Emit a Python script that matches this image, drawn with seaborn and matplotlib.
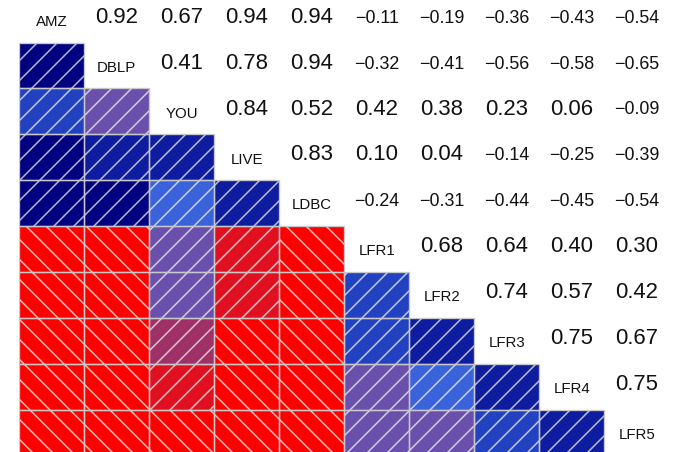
import numpy as np
import pandas as pd
import matplotlib
matplotlib.use("Agg")
import matplotlib.pyplot as plt
from matplotlib.colors import ListedColormap, BoundaryNorm
from matplotlib.patches import Rectangle
import seaborn as sns

# Datasets compared
labels = ["AMZ", "DBLP", "YOU", "LIVE", "LDBC", "LFR1", "LFR2", "LFR3", "LFR4", "LFR5"]

# Upper-triangle correlations, one list per row (columns to the right of the diagonal)
r_amz = [0.92, 0.67, 0.94, 0.94, -0.11, -0.19, -0.36, -0.43, -0.54]
r_dblp = [0.41, 0.78, 0.94, -0.32, -0.41, -0.56, -0.58, -0.65]
r_you = [0.84, 0.52, 0.42, 0.38, 0.23, 0.06, -0.09]
r_live = [0.83, 0.10, 0.04, -0.14, -0.25, -0.39]
r_ldbc = [-0.24, -0.31, -0.44, -0.45, -0.54]
r_lfr1 = [0.68, 0.64, 0.40, 0.30]
r_lfr2 = [0.74, 0.57, 0.42]
r_lfr3 = [0.75, 0.67]
r_lfr4 = [0.75]
upper_rows = [r_amz, r_dblp, r_you, r_live, r_ldbc, r_lfr1, r_lfr2, r_lfr3, r_lfr4]

n = len(labels)
corr = np.eye(n)
for i, row in enumerate(upper_rows):
    for k, v in enumerate(row):
        j = i + 1 + k
        corr[i, j] = v
        corr[j, i] = v
df = pd.DataFrame(corr, index=labels, columns=labels)

# Shading palette: red for negative, through purple to navy for strong positive
bounds = [-1.0, 0.0, 0.2, 0.3, 0.5, 0.6, 0.7, 0.9, 1.0001]
shades = ["#FF0000", "#E01020", "#A03068", "#6A50AC", "#3A62DA",
          "#2242C2", "#0E1CA0", "#000080"]
cmap = ListedColormap(shades)
norm = BoundaryNorm(bounds, cmap.N)

sns.set_theme(style="white")
plt.rcParams["font.family"] = ["Liberation Sans", "DejaVu Sans"]
plt.rcParams["hatch.linewidth"] = 0.9

W, H, DPI = 673, 452, 120
fig = plt.figure(figsize=(W / DPI, H / DPI), dpi=DPI)
left, top, cw, rh = 19.3, -3.4, 65.0, 45.9
ax = fig.add_axes([left / W, 1 - (top + n * rh) / H, n * cw / W, n * rh / H])

lower_mask = np.triu(np.ones((n, n), dtype=bool))
sns.heatmap(df, mask=lower_mask, cmap=cmap, norm=norm, cbar=False,
            linewidths=0, square=False,
            xticklabels=False, yticklabels=False, ax=ax)

# Hatching ("/" positive, "\" negative) and a light border on each shaded cell
for i in range(n):
    for j in range(i):
        v = df.iat[i, j]
        ax.add_patch(Rectangle((j, i), 1, 1, facecolor="none",
                               edgecolor=(1, 1, 1, 0.72), linewidth=0,
                               hatch="//" if v > 0 else "\\\\"))
        ax.add_patch(Rectangle((j, i), 1, 1, fill=False,
                               edgecolor="#C8C8C8", linewidth=0.8))

# Diagonal names and upper-triangle values
for i in range(n):
    ax.text(i + 0.5, i + 0.55, labels[i], ha="center", va="center",
            fontsize=9, color="#111111")
    for j in range(i + 1, n):
        v = df.iat[i, j]
        if v >= 0:
            ax.text(j + 0.5, i + 0.45, f"{v:.2f}", ha="center", va="center",
                    fontsize=13.3, color="#111111")
        else:
            ax.text(j + 0.5, i + 0.47, "\u2212" + f"{abs(v):.2f}",
                    ha="center", va="center", fontsize=10.7, color="#111111")

ax.set_xlim(0, n)
ax.set_ylim(n, 0)
for s in ax.spines.values():
    s.set_visible(False)
ax.set_xlabel("")
ax.set_ylabel("")

fig.savefig("out.png", dpi=DPI)
